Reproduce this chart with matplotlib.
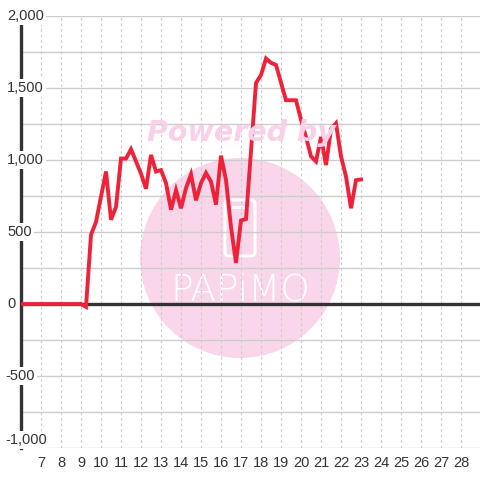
import matplotlib
matplotlib.use('Agg')
import matplotlib.pyplot as plt
import matplotlib.patches as mpatches

plt.rcParams['font.family'] = ['Liberation Sans', 'DejaVu Sans']

hours = [6, 9, 9.25, 9.5, 9.75, 10.25, 10.5, 10.75, 11, 11.25, 11.5, 12, 12.25, 12.5,
         12.75, 13, 13.25, 13.5, 13.75, 14, 14.25, 14.5, 14.75, 15, 15.25, 15.5, 15.75,
         16, 16.25, 16.5, 16.75, 17, 17.25, 17.75, 18, 18.25, 18.5, 18.75, 19.25, 19.75,
         20, 20.25, 20.5, 20.75, 21, 21.25, 21.5, 21.75, 22, 22.25, 22.5, 22.75, 23]
values = [0, 0, -20, 480, 570, 920, 585, 675, 1010, 1010, 1075, 905, 800, 1035,
          920, 930, 840, 655, 790, 665, 805, 900, 720, 840, 910, 850, 690,
          1030, 860, 535, 285, 580, 590, 1535, 1590, 1705, 1675, 1660, 1415, 1415,
          1280, 1160, 1025, 990, 1160, 965, 1215, 1255, 1025, 885, 665, 860, 865]

xticks = list(range(7, 29))
yticks = [2000, 1500, 1000, 500, 0, -500, -1000]
ygrid = list(range(-1000, 2001, 250))

DARK = '#333333'
GRID = '#cccccc'
RED = '#ee2239'
PINK = '#fad6eb'

fig = plt.figure(figsize=(4.8, 4.8), dpi=100)
ax = fig.add_axes([21 / 480, 32 / 480, 460 / 480, 432 / 480])
ax.set_xlim(6, 29)
ax.set_ylim(-1000, 2000)

# watermark (below grid)
circle = mpatches.Circle((240 / 480, 1 - 258 / 480), 100 / 480, transform=fig.transFigure,
                         facecolor=PINK, edgecolor='none', zorder=0.1)
ax.add_patch(circle)
phone = mpatches.FancyBboxPatch((225 / 480, 1 - 256 / 480), 30 / 480, 56 / 480,
                                boxstyle='round,pad=0,rounding_size=0.008',
                                transform=fig.transFigure, facecolor='none',
                                edgecolor='white', linewidth=2.2, zorder=0.2)
ax.add_patch(phone)
ax.plot([233 / 480, 247 / 480], [1 - 207 / 480, 1 - 207 / 480], transform=fig.transFigure,
        color='white', lw=2.2, zorder=0.2)
fig.text(241 / 480, 1 - 133 / 480, 'Powered by', ha='center', va='center', fontsize=20.5,
         fontweight='bold', fontstyle='italic', color='#f9d0e7', family='DejaVu Sans', zorder=0.2)
ax.text(240 / 480, 1 - 290 / 480, 'PAPiMO', transform=fig.transFigure, ha='center',
        va='center', fontsize=27, color='white', family='DejaVu Sans', fontweight='light',
        zorder=0.2)

# grid
for y in ygrid:
    ax.axhline(y, color=GRID, lw=1, zorder=0.5)
for x in xticks:
    ax.axvline(x, color=GRID, lw=0.8, ls=(0, (2.5, 2.5)), zorder=0.5)
ax.axhline(0, color=DARK, lw=2.4, zorder=2)

ax.plot(hours, values, color=RED, lw=2.8, zorder=3, solid_joinstyle='miter')

for s in ['top', 'right', 'bottom']:
    ax.spines[s].set_visible(False)
ax.spines['left'].set_color(DARK)
ax.spines['left'].set_linewidth(2.4)
ax.spines['left'].set_zorder(2)

ax.set_xticks(xticks)
ax.set_xticklabels([str(x) for x in xticks], fontsize=10.5, color=DARK)
ax.tick_params(axis='x', length=0, pad=6)
ax.set_yticks([])

for y in yticks:
    va = 'bottom' if y == -1000 else 'center'
    yy = y + 10 if y == -1000 else y
    x0 = -16 / 460 if y < 0 else -14 / 460
    ax.text(x0, yy, f'{y:,}', transform=ax.get_yaxis_transform(), ha='left', va=va,
            fontsize=10.5, color=DARK, zorder=5, clip_on=False,
            bbox=dict(facecolor='white', edgecolor='none', pad=1.5))

fig.savefig('out.png', dpi=100, facecolor='white')
